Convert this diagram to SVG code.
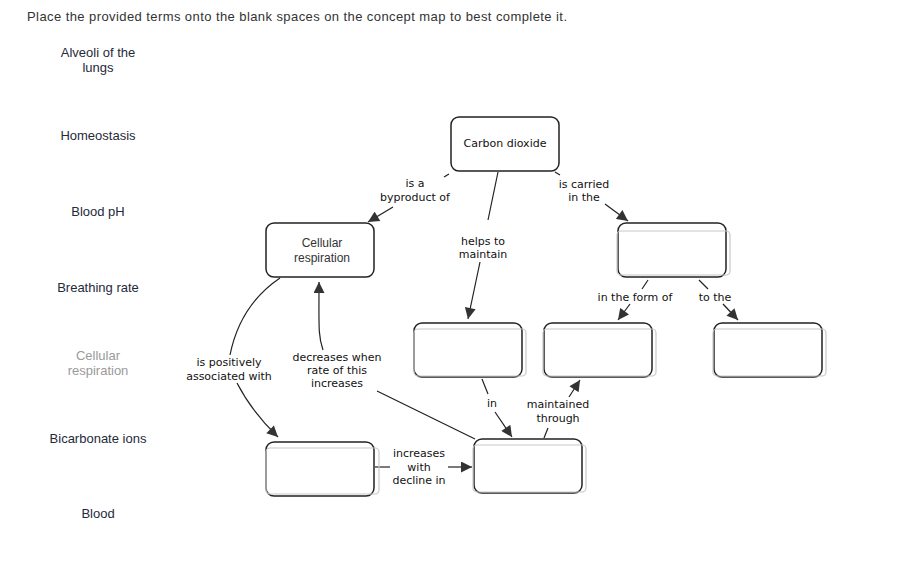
<svg xmlns="http://www.w3.org/2000/svg" width="898" height="573" viewBox="0 0 898 573">
<style>
.title{font-family:"Liberation Sans",Arial,sans-serif;font-size:13px;fill:#333}
.term{font-family:"Liberation Sans",Arial,sans-serif;font-size:13px;fill:#1f2a3a;text-anchor:middle}
.term.used{fill:#9a9a9a}
.box{fill:#fff;stroke:#222;stroke-width:1.5}
.drop{fill:none;stroke:#c8c8c8;stroke-width:1.2}
.ntext{font-family:"DejaVu Sans",Verdana,sans-serif;font-size:11px;fill:#111;text-anchor:middle}
.ntext2{font-family:"Liberation Sans",Arial,sans-serif;font-size:12px;fill:#333;text-anchor:middle}
.lbl{font-family:"DejaVu Sans",Verdana,sans-serif;font-size:11px;fill:#111;text-anchor:middle}
.edge{fill:none;stroke:#222;stroke-width:1.2}
</style>
<defs>
<marker id="ah" viewBox="0 0 10 10" refX="10" refY="5" markerWidth="12" markerHeight="11" markerUnits="userSpaceOnUse" orient="auto">
<path d="M0,0 L10,5 L0,10 z" fill="#333"/>
</marker>
</defs>
<rect width="898" height="573" fill="#fff"/>
<text class="title" x="27" y="21" textLength="540">Place the provided terms onto the blank spaces on the concept map to best complete it.</text>

<g id="terms">
<text class="term" x="98" y="57">Alveoli of the</text>
<text class="term" x="98" y="72">lungs</text>
<text class="term" x="98" y="140">Homeostasis</text>
<text class="term" x="98" y="216">Blood pH</text>
<text class="term" x="98" y="292">Breathing rate</text>
<text class="term used" x="98" y="360">Cellular</text>
<text class="term used" x="98" y="375">respiration</text>
<text class="term" x="98" y="443">Bicarbonate ions</text>
<text class="term" x="98" y="518">Blood</text>
</g>

<g id="connectors">
<path class="edge" d="M449,174 L444,177"/>
<path class="edge" d="M393,207 L368,222" marker-end="url(#ah)"/>
<text class="lbl" x="415" y="187">is a</text>
<text class="lbl" x="415" y="201">byproduct of</text>

<path class="edge" d="M498,172 L488,220"/>
<path class="edge" d="M480,262 L468,319" marker-end="url(#ah)"/>
<text class="lbl" x="483" y="245">helps to</text>
<text class="lbl" x="483" y="258">maintain</text>

<path class="edge" d="M555,172 L560,175"/>
<path class="edge" d="M605,204 L628,221" marker-end="url(#ah)"/>
<text class="lbl" x="584" y="188">is carried</text>
<text class="lbl" x="584" y="201">in the</text>

<path class="edge" d="M648,280 L642,289"/>
<path class="edge" d="M630,304 L618,320" marker-end="url(#ah)"/>
<text class="lbl" x="635" y="301">in the form of</text>

<path class="edge" d="M699,280 L708,289"/>
<path class="edge" d="M723,304 L738,320" marker-end="url(#ah)"/>
<text class="lbl" x="715" y="301">to the</text>

<path class="edge" d="M482,379 L488,394"/>
<path class="edge" d="M495,412 L512,437" marker-end="url(#ah)"/>
<text class="lbl" x="492" y="407">in</text>

<path class="edge" d="M544,438 L548,428"/>
<path class="edge" d="M569,397 L580,380" marker-end="url(#ah)"/>
<text class="lbl" x="558" y="408">maintained</text>
<text class="lbl" x="558" y="422">through</text>

<path class="edge" d="M375,467 L390,467"/>
<path class="edge" d="M448,467 L472,467" marker-end="url(#ah)"/>
<text class="lbl" x="419" y="457">increases</text>
<text class="lbl" x="419" y="471">with</text>
<text class="lbl" x="419" y="484">decline in</text>

<path class="edge" d="M475,439 L377,391"/>
<path class="edge" d="M323,350 C318,336 319,326 319,282" stroke="#555" stroke-width="1.5" marker-end="url(#ah)"/>
<text class="lbl" x="337" y="361">decreases when</text>
<text class="lbl" x="337" y="374">rate of this</text>
<text class="lbl" x="337" y="387">increases</text>

<path class="edge" d="M280,278 Q240,305 230,355"/>
<path class="edge" d="M237,383 Q252,412 278,437" marker-end="url(#ah)"/>
<text class="lbl" x="229" y="366">is positively</text>
<text class="lbl" x="229" y="380">associated with</text>
</g>

<g id="node-co2">
<rect class="box" x="451" y="117" width="108" height="54" rx="8"/>
<text class="ntext" x="505" y="147">Carbon dioxide</text>
</g>
<g id="node-cellresp">
<rect class="box" x="266" y="223" width="108" height="54" rx="8"/>
<text class="ntext2" x="322" y="247">Cellular</text>
<text class="ntext2" x="322" y="262">respiration</text>
</g>
<g id="node-blank1">
<rect class="box" x="618" y="223" width="108" height="54" rx="8"/>
<rect class="drop" x="617" y="231" width="113" height="44" rx="4"/>
</g>
<g id="node-blank2">
<rect class="box" x="414" y="323" width="108" height="54" rx="8"/>
<rect class="drop" x="414" y="329" width="112" height="47" rx="4"/>
</g>
<g id="node-blank3">
<rect class="box" x="544" y="323" width="108" height="54" rx="8"/>
<rect class="drop" x="543" y="329" width="113" height="47" rx="4"/>
</g>
<g id="node-blank4">
<rect class="box" x="714" y="323" width="108" height="54" rx="8"/>
<rect class="drop" x="713" y="329" width="113" height="47" rx="4"/>
</g>
<g id="node-blank5">
<rect class="box" x="266" y="442" width="108" height="54" rx="8"/>
<rect class="drop" x="266" y="448" width="113" height="46" rx="4"/>
</g>
<g id="node-blank6">
<rect class="box" x="474" y="439" width="108" height="54" rx="8"/>
<rect class="drop" x="473" y="445" width="113" height="47" rx="4"/>
</g>
</svg>
